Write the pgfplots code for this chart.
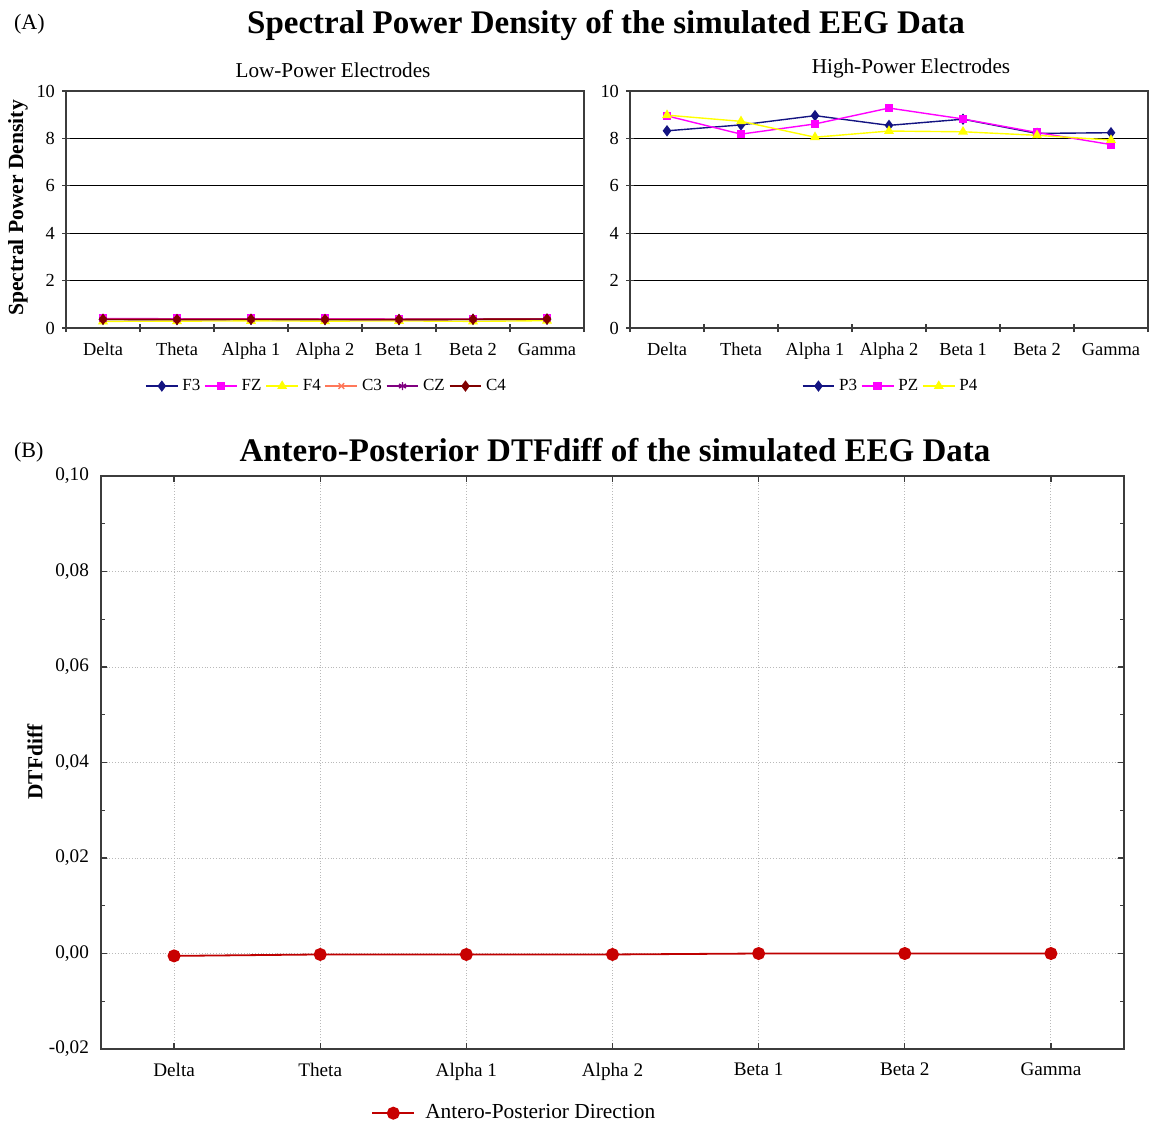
\documentclass[border=0pt]{standalone}
\usepackage{fontspec}
\setmainfont{Liberation Serif}
\usepackage{pgfplots}
\pgfplotsset{compat=1.18}

\definecolor{navyc}{RGB}{20,20,130}
\definecolor{magc}{RGB}{255,0,255}
\definecolor{yelc}{RGB}{255,255,0}
\definecolor{coralc}{RGB}{255,120,90}
\definecolor{purpc}{RGB}{128,0,128}
\definecolor{maroonc}{RGB}{128,0,0}
\definecolor{redc}{RGB}{200,0,0}
\definecolor{framec}{RGB}{60,60,60}

\pgfplotsset{
  spd/.style={
    scale only axis, width=259pt, height=118.5pt,
    xmin=-0.5, xmax=6.5, ymin=0, ymax=10,
    ytick={0,2,4,6,8,10},
    xtick={-0.5,0.5,...,6.5},
    xticklabels={Delta,Theta,Alpha 1,Alpha 2,Beta 1,Beta 2,Gamma},
    x tick label as interval,
    tick pos=left, tick align=center,
    ymajorgrids, grid style={black, line width=0.6pt},
    axis line style={framec, line width=0.7pt},
    major tick length=4pt,
    tick style={framec, line width=0.6pt},
    /pgf/number format/assume math mode=true,
    tick label style={font=\fontsize{9.2}{10}\selectfont},
    xticklabel style={yshift=-2pt},
    legend columns=-1,
    legend style={draw=none, fill=none, font=\fontsize{8.5}{10}\selectfont,
      at={(0.505,-0.245)}, anchor=center,
      /tikz/every even column/.append style={column sep=0pt}},
    legend image code/.code={\draw[mark repeat=2,mark phase=2] plot coordinates {(0cm,0cm) (0.28cm,0cm) (0.56cm,0cm)};},
    every axis plot/.append style={line width=0.7pt, mark size=2pt},
  },
}

\begin{document}
\begin{tikzpicture}
\useasboundingbox (0,0) rectangle (575pt,-561.5pt);

% ---------- (A) left: low-power electrodes ----------
\begin{axis}[spd, at={(33pt,-164pt)}, anchor=south west]
  \addplot[color=navyc, mark=diamond*, mark size=2.3pt] coordinates {(0,0.36) (1,0.35) (2,0.36) (3,0.35) (4,0.35) (5,0.36) (6,0.37)};
  \addlegendentry{F3}
  \addplot[color=magc, mark=square*, mark size=1.8pt] coordinates {(0,0.40) (1,0.39) (2,0.39) (3,0.39) (4,0.38) (5,0.38) (6,0.39)};
  \addlegendentry{FZ}
  \addplot[color=yelc, mark=triangle*, mark size=2.2pt] coordinates {(0,0.28) (1,0.29) (2,0.30) (3,0.29) (4,0.30) (5,0.28) (6,0.31)};
  \addlegendentry{F4}
  \addplot[color=coralc, mark=x, mark size=2pt] coordinates {(0,0.37) (1,0.36) (2,0.37) (3,0.37) (4,0.36) (5,0.37) (6,0.38)};
  \addlegendentry{C3}
  \addplot[color=purpc, mark=asterisk, mark size=2pt] coordinates {(0,0.36) (1,0.36) (2,0.36) (3,0.36) (4,0.35) (5,0.36) (6,0.37)};
  \addlegendentry{CZ}
  \addplot[color=maroonc, mark=diamond*, mark size=2.3pt] coordinates {(0,0.37) (1,0.36) (2,0.37) (3,0.36) (4,0.36) (5,0.37) (6,0.38)};
  \addlegendentry{C4}
\end{axis}

% ---------- (A) right: high-power electrodes ----------
\begin{axis}[spd, at={(315pt,-164pt)}, anchor=south west,
  legend style={at={(0.505,-0.245)}}]
  \addplot[color=navyc, mark=diamond*, mark size=2.3pt] coordinates {(0,8.32) (1,8.57) (2,8.96) (3,8.55) (4,8.81) (5,8.21) (6,8.24)};
  \addlegendentry{P3}
  \addplot[color=magc, mark=square*, mark size=1.8pt] coordinates {(0,8.95) (1,8.18) (2,8.61) (3,9.28) (4,8.82) (5,8.25) (6,7.74)};
  \addlegendentry{PZ}
  \addplot[color=yelc, mark=triangle*, mark size=2.2pt] coordinates {(0,8.98) (1,8.72) (2,8.05) (3,8.31) (4,8.28) (5,8.13) (6,7.93)};
  \addlegendentry{P4}
\end{axis}

% ---------- (B) DTFdiff ----------
\begin{axis}[
  scale only axis, width=511.5pt, height=286.5pt,
  at={(50.5pt,-524.5pt)}, anchor=south west,
  xmin=-0.5, xmax=6.5, xtick={0,...,6},
  xticklabels={Delta,Theta,Alpha 1,Alpha 2,Beta 1,Beta 2,Gamma},
  ymin=-0.02, ymax=0.10,
  ytick={-0.02,0,0.02,0.04,0.06,0.08,0.10},
  minor y tick num=1,
  grid=major, grid style={gray!55, densely dotted, line width=0.5pt},
  tick align=inside, major tick length=3pt, minor tick length=2pt,
  axis line style={framec, line width=0.7pt},
  tick style={framec, line width=0.6pt},
  /pgf/number format/assume math mode=true,
  yticklabel style={xshift=-2.5pt, /pgf/number format/.cd, fixed, fixed zerofill, precision=2, use comma},
  xticklabel style={yshift=-3.5pt},
  tick label style={font=\fontsize{9.6}{11}\selectfont},
  legend style={draw=none, fill=none, font=\fontsize{10.7}{12}\selectfont,
    at={(0.405,-0.112)}, anchor=center,
    /tikz/every even column/.append style={column sep=4pt}},
  legend image code/.code={\draw[mark repeat=2,mark phase=2] plot coordinates {(0cm,0cm) (0.37cm,0cm) (0.74cm,0cm)};},
]
  \addplot[color=red!75!black, line width=0.9pt, mark=*, mark size=2.8pt,
    mark options={fill=redc, draw=redc}] coordinates {
    (0,-0.0005) (1,-0.0002) (2,-0.0002) (3,-0.0002) (4,0.0000) (5,0.0000) (6,0.0000)};
  \addlegendentry{\hspace{3pt}Antero-Posterior Direction}
\end{axis}

% ---------- titles and labels ----------
\node[anchor=west, font=\fontsize{11}{13}\selectfont] at (3.5pt,-12pt) {(A)};
\node[font=\fontsize{16.5}{19}\bfseries] at (303pt,-12.5pt) {Spectral Power Density of the simulated EEG Data};
\node[font=\fontsize{10.6}{12}\selectfont] at (166.5pt,-35pt) {Low-Power Electrodes};
\node[font=\fontsize{10.6}{12}\selectfont] at (455.5pt,-34pt) {High-Power Electrodes};
\node[rotate=90, font=\fontsize{10.8}{12}\bfseries] at (9pt,-104pt) {Spectral Power Density};
\node[anchor=west, font=\fontsize{11}{13}\selectfont] at (3.5pt,-226pt) {(B)};
\node[font=\fontsize{16.5}{19}\bfseries] at (307.5pt,-225pt) {Antero-Posterior DTFdiff of the simulated EEG Data};
\node[rotate=90, font=\fontsize{10.7}{12}\bfseries] at (17.5pt,-381pt) {DTFdiff};
\end{tikzpicture}
\end{document}
